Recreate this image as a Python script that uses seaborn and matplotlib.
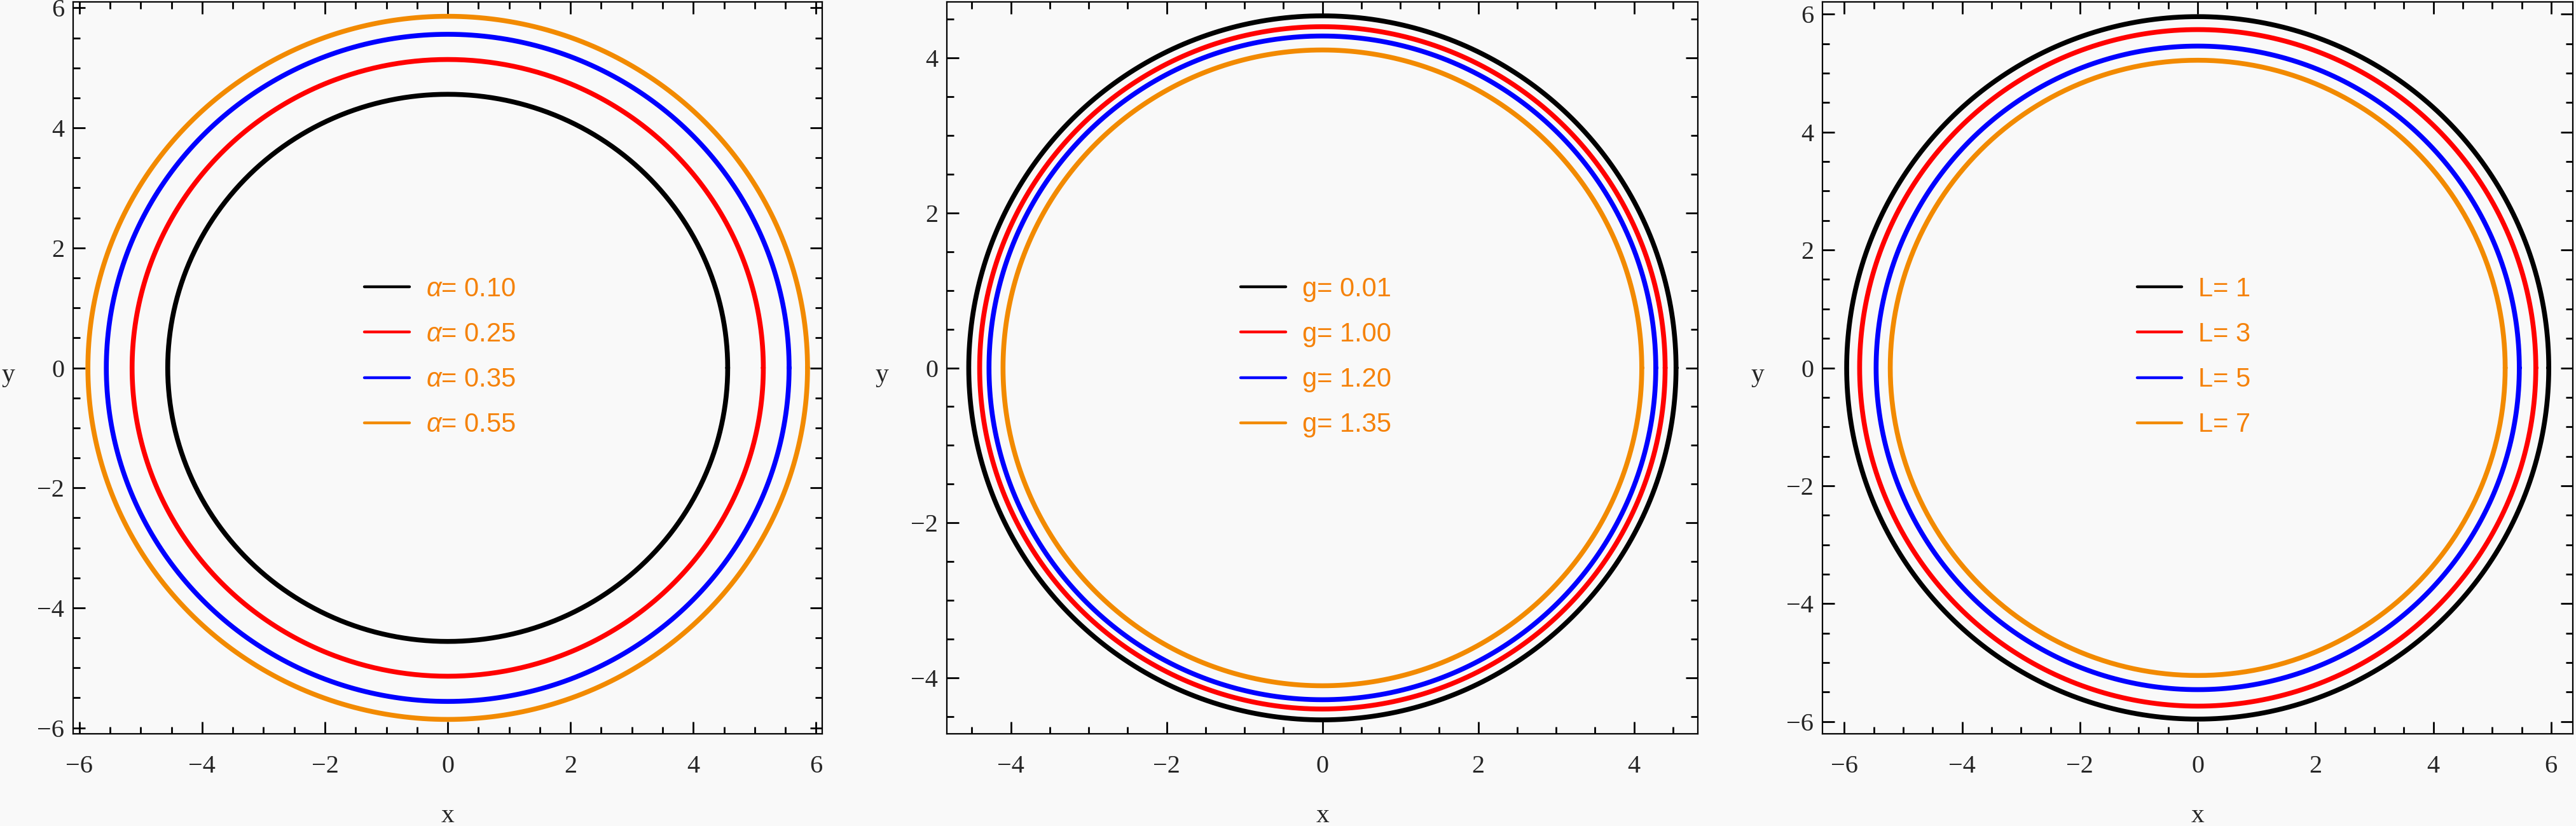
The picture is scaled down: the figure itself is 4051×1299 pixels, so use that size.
import numpy as np
import pandas as pd
import matplotlib
matplotlib.use("Agg")
import matplotlib.pyplot as plt
import seaborn as sns
from matplotlib.ticker import MultipleLocator

# radii of the rings
alpha_labels = [r"$\alpha$= 0.10", r"$\alpha$= 0.25", r"$\alpha$= 0.35", r"$\alpha$= 0.55"]
alpha_radii = [4.56, 5.14, 5.56, 5.86]

g_labels = ["g= 0.01", "g= 1.00", "g= 1.20", "g= 1.35"]
g_radii = [4.54, 4.40, 4.28, 4.10]

L_labels = ["L= 1", "L= 3", "L= 5", "L= 7"]
L_radii = [5.96, 5.74, 5.46, 5.22]

colors = ["black", "#ff0000", "#0000ff", "#f28a00"]
legend_text_color = "#f5820a"

sns.set_style("ticks")
plt.rcParams["font.family"] = ["Liberation Serif", "DejaVu Serif"]
plt.rcParams["mathtext.fontset"] = "custom"
plt.rcParams["mathtext.it"] = "Liberation Sans:italic"
plt.rcParams["mathtext.rm"] = "Liberation Sans"

bg = "#f9f9f9"
fig = plt.figure(figsize=(40.51, 12.99), dpi=100, facecolor=bg)

panels = [
    (alpha_labels, alpha_radii, [0.0284, 0.1116, 0.2908, 0.8861], 6.1, 6.1, 0.389),
    (g_labels, g_radii, [0.3676, 0.1116, 0.2915, 0.8861], 4.82, 4.72, 0.391),
    (L_labels, L_radii, [0.7075, 0.1116, 0.2913, 0.8861], 6.37, 6.21, 0.419),
]

theta = np.linspace(0, 2 * np.pi, 721)

for labels, radii, rect, xl, yl, legx in panels:
    ax = fig.add_axes(rect)
    ax.set_facecolor(bg)
    for lab, r, c in zip(labels, radii, colors):
        ring = pd.DataFrame({"x": r * np.cos(theta), "y": r * np.sin(theta)})
        sns.lineplot(data=ring, x="x", y="y", sort=False, estimator=None,
                     color=c, linewidth=5.5, label=lab, ax=ax)
    ax.set_xlim(-xl, xl)
    ax.set_ylim(-yl, yl)
    xm = int(np.floor(xl / 2) * 2)
    ym = int(np.floor(yl / 2) * 2)
    ax.set_xticks(np.arange(-xm, xm + 1, 2))
    ax.set_yticks(np.arange(-ym, ym + 1, 2))
    ax.xaxis.set_minor_locator(MultipleLocator(0.5))
    ax.yaxis.set_minor_locator(MultipleLocator(0.5))
    ax.tick_params(which="both", direction="in", top=True, right=True,
                   width=2, color="black", labelsize=29)
    ax.tick_params(which="major", length=14)
    ax.tick_params(which="minor", length=8)
    ax.tick_params(axis="x", which="major", pad=24)
    ax.tick_params(axis="y", which="major", pad=10)
    for sp in ax.spines.values():
        sp.set_linewidth(1.6)
        sp.set_color("black")
    ax.set_xlabel("x", fontsize=30, va="center")
    ax.set_ylabel("y", fontsize=30, rotation=0, va="center", ha="center")
    ax.xaxis.set_label_coords(0.5, -0.112)
    ax.yaxis.set_label_coords(-0.087, 0.49)

    leg = ax.legend(loc="upper left", bbox_to_anchor=(legx, 0.625), frameon=False,
                    handlelength=1.7, handletextpad=0.62,
                    labelspacing=0.75, borderpad=0, borderaxespad=0,
                    prop={"family": "Liberation Sans", "size": 30})
    for t in leg.get_texts():
        t.set_color(legend_text_color)
    for h in leg.get_lines():
        h.set_linewidth(3.2)

fig.savefig("out.png", dpi=100, facecolor=bg)
